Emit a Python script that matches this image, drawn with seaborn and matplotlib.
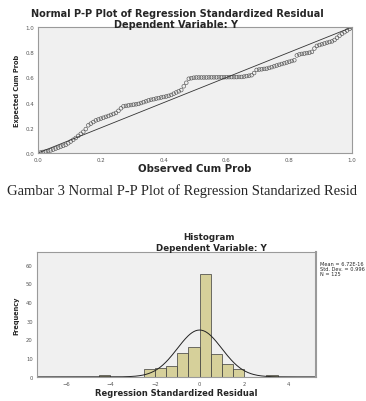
import numpy as np
import pandas as pd
import seaborn as sns
import matplotlib.pyplot as plt

sns.set_style("white")
plt.rcParams['font.family'] = ['DejaVu Sans']

# P-P plot: expected cumulative probability for each of the 125 ranked residuals
expected_cum = [
    0.004, 0.008, 0.012, 0.016, 0.020, 0.027, 0.035, 0.042, 0.050, 0.057,
    0.064, 0.077, 0.091, 0.105, 0.119, 0.136, 0.152, 0.168, 0.190, 0.220,
    0.233, 0.246, 0.259, 0.266, 0.273, 0.280, 0.287, 0.294, 0.302, 0.310,
    0.318, 0.335, 0.355, 0.371, 0.374, 0.378, 0.381, 0.384, 0.387, 0.390,
    0.397, 0.404, 0.411, 0.418, 0.423, 0.427, 0.432, 0.436, 0.441, 0.445,
    0.449, 0.454, 0.461, 0.471, 0.481, 0.490, 0.500, 0.530, 0.558, 0.590,
    0.594, 0.598, 0.600, 0.600, 0.600, 0.600, 0.600, 0.601, 0.601, 0.601,
    0.601, 0.602, 0.602, 0.602, 0.602, 0.603, 0.603, 0.603, 0.603, 0.604,
    0.604, 0.607, 0.611, 0.614, 0.618, 0.635, 0.660, 0.663, 0.665, 0.668,
    0.670, 0.676, 0.682, 0.689, 0.695, 0.701, 0.707, 0.713, 0.719, 0.725,
    0.731, 0.737, 0.775, 0.783, 0.787, 0.790, 0.794, 0.797, 0.803, 0.830,
    0.851, 0.858, 0.864, 0.870, 0.876, 0.882, 0.887, 0.898, 0.915, 0.932,
    0.947, 0.960, 0.973, 0.986, 0.998,
]
n_obs = len(expected_cum)
observed_cum = np.arange(1, n_obs + 1) / n_obs
diag = [0.0, 1.0]
pp_ticks = [0.0, 0.2, 0.4, 0.6, 0.8, 1.0]

# histogram of standardized residuals (bin width 0.5)
bin_edges = [x / 2 for x in range(-15, 11)]
bin_left = [-4.5, -2.5, -2.0, -1.5, -1.0, -0.5, 0.0, 0.5, 1.0, 1.5, 3.0]
bin_count = [1, 4, 5, 6, 13, 16, 55, 12, 7, 4, 1]
resid_mean = 0.0
resid_sd = 0.996
n_total = 125
hist_xticks = [-6, -4, -2, 0, 2, 4]
hist_yticks = [0, 10, 20, 30, 40, 50, 60]

bg = '#f0f0f0'
frame = '#9a9a9a'
bar_col = '#d6d09a'

fig = plt.figure(figsize=(3.66, 4.02), dpi=100)

# ---- P-P plot ----
ax1 = fig.add_axes([0.104, 0.617, 0.858, 0.313])
ax1.set_facecolor(bg)
sns.lineplot(x=diag, y=diag, ax=ax1, color='#333333', lw=0.6)
sns.scatterplot(x=observed_cum, y=expected_cum, ax=ax1, s=7, marker='o',
                facecolor='none', edgecolor='#555555', linewidth=0.45)
ax1.set_xlim(0, 1)
ax1.set_ylim(0, 1)
ax1.set_xticks(pp_ticks)
ax1.set_yticks(pp_ticks)
ax1.set_xticklabels([f'{t:.1f}' for t in pp_ticks])
ax1.set_yticklabels([f'{t:.1f}' for t in pp_ticks])
ax1.tick_params(labelsize=4, length=2, width=0.5, pad=1, colors='#555555')
ax1.set_xlabel('Observed Cum Prob', fontsize=7.3, fontweight='bold', labelpad=0.5)
ax1.set_ylabel('Expected Cum Prob', fontsize=4.8, fontweight='bold', labelpad=4)
for s in ax1.spines.values():
    s.set_color(frame)
    s.set_linewidth(0.8)
fig.text(0.484, 0.966, 'Normal P-P Plot of Regression Standardized Residual',
         ha='center', va='center', fontsize=7.0, fontweight='bold')
fig.text(0.481, 0.939, 'Dependent Variable: Y', ha='center', va='center',
         fontsize=7.0, fontweight='bold')

# ---- caption (as visible in the page crop) ----
fig.text(0.019, 0.525, 'Gambar 3 Normal P-P Plot of Regression Standarized Resid',
         ha='left', va='center', fontsize=10.55, family='Liberation Serif')

# ---- histogram ----
hist_df = pd.DataFrame({'mid': np.array(bin_left) + 0.25, 'count': bin_count})
ax2 = fig.add_axes([0.101, 0.060, 0.762, 0.311])
ax2.set_facecolor(bg)
sns.histplot(data=hist_df, x='mid', weights='count', bins=bin_edges,
             ax=ax2, color=bar_col, alpha=1, edgecolor='#3a3a3a', linewidth=0.5)
curve_x = np.linspace(-7.3, 5.3, 300)
curve_y = n_total * 0.5 * np.exp(-0.5 * ((curve_x - resid_mean) / resid_sd) ** 2) / (resid_sd * np.sqrt(2 * np.pi))
sns.lineplot(x=curve_x, y=curve_y, ax=ax2, color='#222222', lw=0.7)
ax2.set_xlim(-7.3, 5.22)
ax2.set_ylim(0, 66.8)
ax2.set_xticks(hist_xticks)
ax2.set_yticks(hist_yticks)
ax2.tick_params(labelsize=3.8, length=2, width=0.5, pad=1, colors='#555555')
ax2.set_xlabel('Regression Standardized Residual', fontsize=6.0, fontweight='bold', labelpad=1.5)
ax2.set_ylabel('Frequency', fontsize=4.8, fontweight='bold', labelpad=5)
for s in ax2.spines.values():
    s.set_color(frame)
    s.set_linewidth(0.8)
ax2.spines['right'].set_linewidth(1.5)
fig.text(0.571, 0.410, 'Histogram', ha='center', va='center', fontsize=6.3, fontweight='bold')
fig.text(0.577, 0.383, 'Dependent Variable: Y', ha='center', va='center',
         fontsize=6.3, fontweight='bold')
fig.text(0.874, 0.348, f'Mean = 6.72E-16\nStd. Dev. = {resid_sd:.3f}\nN = {n_total}',
         ha='left', va='top', fontsize=3.6, linespacing=0.95)

fig.savefig('out.png', dpi=100)
